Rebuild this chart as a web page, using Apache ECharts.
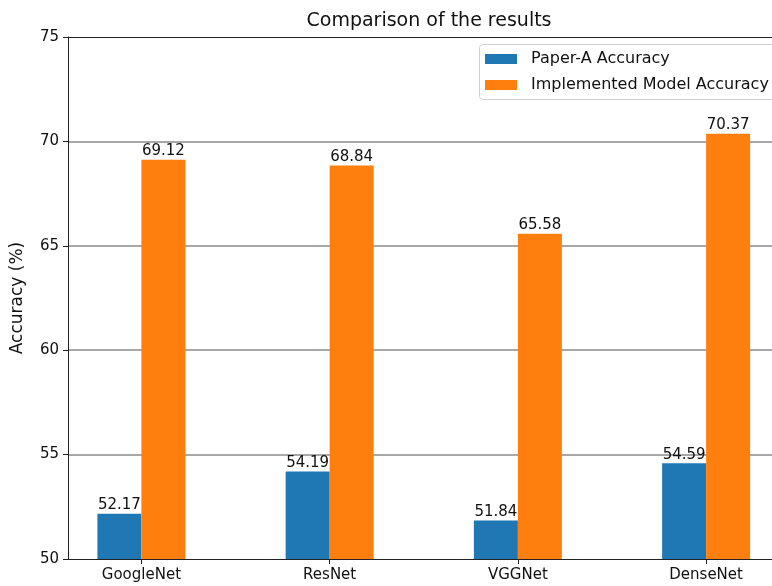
<!DOCTYPE html>
<html>
<head>
<meta charset="utf-8">
<script src="https://cdn.jsdelivr.net/npm/echarts@6/dist/echarts.min.js"></script>
<style>
  html, body { margin: 0; padding: 0; background: #fff; }
  #chart { width: 772px; height: 586px; }
</style>
</head>
<body>
<div id="chart"></div>
<script>
// Model names along the x axis
const models = ['GoogleNet', 'ResNet', 'VGGNet', 'DenseNet'];
// Accuracy (%) for each model
const paperAccuracy = [52.17, 54.19, 51.84, 54.59];
const implementedAccuracy = [69.12, 68.84, 65.58, 70.37];
// Y axis ticks
const yTicks = [50, 55, 60, 65, 70, 75];

const FONT = 'DejaVu Sans';
const positions = models.map((_, i) => i);
const X_MIN = -0.39;
const X_MAX = 3.35;

const chart = echarts.init(document.getElementById('chart'), null, { renderer: 'canvas' });

const labelStyle = {
  show: true,
  position: 'top',
  distance: 1,
  color: '#111',
  fontFamily: FONT,
  fontSize: 15,
  formatter: p => p.value[1].toFixed(2)
};

chart.setOption({
  animation: false,
  backgroundColor: '#fff',
  textStyle: { fontFamily: FONT },
  title: {
    text: 'Comparison of the results',
    left: 424,
    top: 7,
    textAlign: 'center',
    textStyle: { fontFamily: FONT, fontSize: 19, fontWeight: 'normal', color: '#111' }
  },
  // legend frame runs past the right edge of the canvas
  graphic: [{
    type: 'rect',
    z: 3,
    shape: { x: 479.5, y: 44.5, width: 330, height: 55, r: 3 },
    style: { fill: '#fff', stroke: '#d0d0d0', lineWidth: 1 }
  }],
  legend: {
    orient: 'vertical',
    left: 479,
    top: 44,
    z: 5,
    padding: [7, 12, 8, 6],
    itemGap: 10,
    itemWidth: 32,
    itemHeight: 10,
    borderWidth: 0,
    icon: 'rect',
    textStyle: { fontFamily: FONT, fontSize: 16, lineHeight: 14, color: '#111', padding: [0, 0, 0, 9] },
    data: ['Paper-A Accuracy', 'Implemented Model Accuracy']
  },
  grid: { left: 68, right: 0, top: 37, bottom: 27 },
  xAxis: [
    {
      type: 'value',
      min: X_MIN,
      max: X_MAX,
      splitLine: { show: false },
      axisLine: { show: true, onZero: false, lineStyle: { color: '#222', width: 1 } },
      axisTick: { show: true, length: 5, customValues: positions, lineStyle: { color: '#222' } },
      axisLabel: {
        customValues: positions,
        formatter: v => models[Math.round(v)],
        fontFamily: FONT, fontSize: 15, color: '#111', margin: 9
      }
    },
    {
      // top frame line only
      type: 'value',
      position: 'top',
      min: X_MIN,
      max: X_MAX,
      axisLine: { show: true, onZero: false, lineStyle: { color: '#222', width: 1 } },
      axisTick: { show: false },
      axisLabel: { show: false },
      splitLine: { show: false }
    }
  ],
  yAxis: {
    type: 'value',
    min: yTicks[0],
    max: yTicks[yTicks.length - 1],
    interval: 5,
    name: 'Accuracy (%)',
    nameLocation: 'middle',
    nameGap: 42,
    nameTextStyle: { fontFamily: FONT, fontSize: 17, color: '#111' },
    axisLine: { show: true, onZero: false, lineStyle: { color: '#222', width: 1 } },
    axisTick: { show: true, length: 5, lineStyle: { color: '#222' } },
    axisLabel: { fontFamily: FONT, fontSize: 15, color: '#111', margin: 9 },
    splitLine: {
      show: true, showMinLine: false, showMaxLine: false,
      lineStyle: { color: '#a8a8a8', width: 2 }
    }
  },
  series: [
    {
      name: 'Paper-A Accuracy',
      type: 'bar',
      barWidth: 44,
      barGap: '0%',
      itemStyle: { color: '#1f77b4' },
      label: labelStyle,
      data: positions.map(i => [i, paperAccuracy[i]])
    },
    {
      name: 'Implemented Model Accuracy',
      type: 'bar',
      barWidth: 44,
      barGap: '0%',
      itemStyle: { color: '#ff7f0e' },
      label: labelStyle,
      data: positions.map(i => [i, implementedAccuracy[i]])
    }
  ]
});
</script>
</body>
</html>
